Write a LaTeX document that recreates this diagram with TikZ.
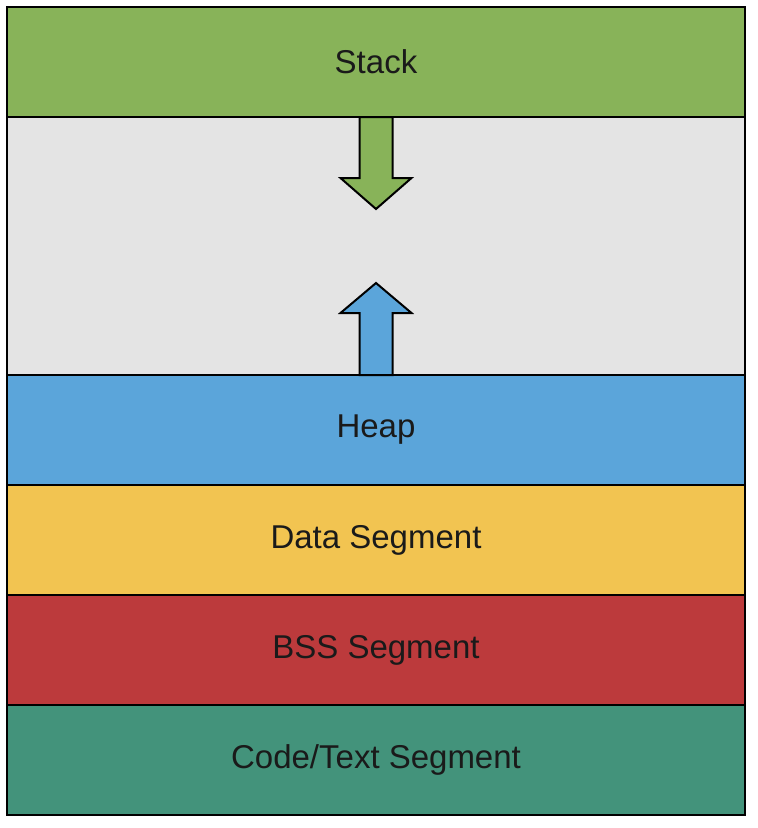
\documentclass[tikz,border=0pt]{standalone}
\usepackage{fontspec}
\setmainfont{Liberation Sans}
\usetikzlibrary{positioning}
\definecolor{stackgreen}{HTML}{88B359}
\definecolor{freegray}{HTML}{E4E4E4}
\definecolor{heapblue}{HTML}{5BA5DA}
\definecolor{datayellow}{HTML}{F2C451}
\definecolor{bssred}{HTML}{BC3A3C}
\definecolor{codeteal}{HTML}{43937B}
\definecolor{labelink}{HTML}{1A1A1A}
\tikzset{
	layer/.style={rectangle,draw,line width=2.4pt,minimum width=738pt,minimum height=110pt,
		inner sep=0pt,outer sep=0pt,text=labelink,font=\fontsize{33}{39}\selectfont},
	growarrow/.style={draw,line width=2pt,line join=miter}
}

\begin{document}
\begin{tikzpicture}[x=1pt,y=-1pt]
	\useasboundingbox[fill=white] (0,0) rectangle (758,828);
	\node[layer,fill=stackgreen,anchor=north west] (stack) at (7,7) {Stack};
	\node[layer,fill=freegray,minimum height=258pt,below=0pt of stack] (free) {};
	\node[layer,fill=heapblue,below=0pt of free] (heap) {Heap};
	\node[layer,fill=datayellow,below=0pt of heap] (data) {Data Segment};
	\node[layer,fill=bssred,below=0pt of data] (bss) {BSS Segment};
	\node[layer,fill=codeteal,below=0pt of bss] (code) {Code/Text Segment};
	\draw[growarrow,fill=stackgreen] ([xshift=-16.5pt]stack.south) -- ++(0,61) -- ++(-19,0)
		-- ++(35.5,31) -- ++(35.5,-31) -- ++(-19,0) -- ++(0,-61) -- cycle;
	\draw[growarrow,fill=heapblue] ([xshift=-16.5pt]heap.north) -- ++(0,-62) -- ++(-19,0)
		-- ++(35.5,-30) -- ++(35.5,30) -- ++(-19,0) -- ++(0,62) -- cycle;
\end{tikzpicture}
\end{document}
